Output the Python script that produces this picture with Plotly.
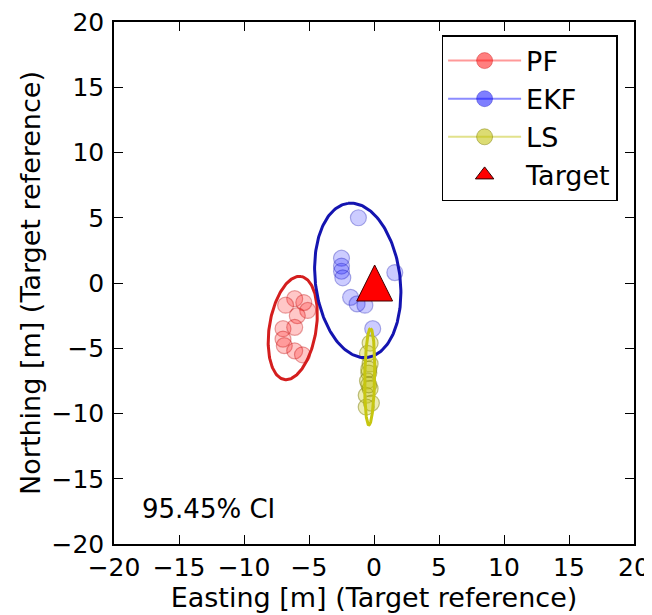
import numpy as np
import plotly.graph_objects as go

# ---- data ----
pf_x = [-6.1, -5.4, -5.1, -6.8, -5.9, -7.0, -6.1, -7.0, -6.9, -6.1, -5.5]
pf_y = [-1.2, -1.5, -2.1, -1.7, -2.5, -3.5, -3.4, -4.3, -4.8, -5.2, -5.5]

ekf_x = [-1.2, -2.5, -2.5, -2.5, -2.4, 1.6, -1.8, -1.3, -0.7, -0.1]
ekf_y = [5.0, 1.9, 1.3, 0.9, 0.4, 0.8, -1.1, -1.6, -1.7, -3.5]

ls_x = [-0.3, -0.5, -0.3, -0.4, -0.5, -0.3, -0.6, -0.2, -0.4, -0.4, -0.6]
ls_y = [-4.6, -5.4, -6.2, -6.9, -7.5, -8.1, -8.6, -9.2, -6.6, -7.8, -9.5]

target_x = [0.05]
target_y = [0.0]

# confidence ellipses: centre x, centre y, semi-major, semi-minor, major-axis angle (deg from +x)
ell_names = ["PF", "EKF", "LS"]
ell_cx = [-6.25, -1.25, -0.33]
ell_cy = [-3.45, 0.2, -7.18]
ell_a = [4.0, 5.95, 3.7]
ell_b = [1.8, 3.26, 0.38]
ell_ang = [80.7, 97.2, 89.0]

ci_label = "95.45% CI"

fill_cols = ["rgba(255,0,0,0.22)", "rgba(0,0,255,0.2)", "rgba(191,191,0,0.3)"]
edge_cols = ["rgba(190,0,0,0.35)", "rgba(0,0,170,0.3)", "rgba(120,120,0,0.45)"]
ell_cols = ["#d41e1e", "#1414b0", "#c6c610"]
leg_line = ["rgba(255,0,0,0.4)", "rgba(0,0,255,0.45)", "rgba(191,191,0,0.45)"]
leg_fill = ["rgba(255,0,0,0.5)", "rgba(0,0,255,0.5)", "rgba(191,191,0,0.55)"]

font = "DejaVu Sans"

fig = go.Figure()

pts = [(pf_x, pf_y), (ekf_x, ekf_y), (ls_x, ls_y)]
for i, (xs, ys) in enumerate(pts):
    fig.add_trace(go.Scatter(
        x=xs, y=ys, mode="markers", showlegend=False,
        marker=dict(size=16, color=fill_cols[i], line=dict(color=edge_cols[i], width=1.2)),
    ))

t = np.linspace(0, 2 * np.pi, 200)
for i in range(3):
    th = np.deg2rad(ell_ang[i])
    ex = ell_cx[i] + ell_a[i] * np.cos(t) * np.cos(th) - ell_b[i] * np.sin(t) * np.sin(th)
    ey = ell_cy[i] + ell_a[i] * np.cos(t) * np.sin(th) + ell_b[i] * np.sin(t) * np.cos(th)
    fig.add_trace(go.Scatter(x=ex, y=ey, mode="lines", showlegend=False,
                             line=dict(color=ell_cols[i], width=3)))

# target marker: matplotlib-style '^' (equal width and height) built around the target point
half = 1.38  # half size of marker in data units
tri_x = [target_x[0] - half, target_x[0] + half, target_x[0], target_x[0] - half]
tri_y = [target_y[0] - half, target_y[0] - half, target_y[0] + half, target_y[0] - half]
fig.add_trace(go.Scatter(x=tri_x, y=tri_y, mode="lines", fill="toself", fillcolor="#ff0000",
                         line=dict(color="#400000", width=1), showlegend=False))

# legend entries
for i, nm in enumerate(ell_names):
    fig.add_trace(go.Scatter(
        x=[None], y=[None], mode="lines+markers", name=nm, legendgroup=nm,
        line=dict(color=leg_line[i], width=2),
        marker=dict(size=16, color=leg_fill[i], line=dict(color=edge_cols[i], width=1)),
    ))
fig.add_trace(go.Scatter(
    x=[None], y=[None], mode="markers", name="Target", legendgroup="Target",
    marker=dict(symbol="triangle-up", size=16, color="#ff0000", line=dict(color="#300000", width=1)),
))

fig.add_annotation(x=-18.0, y=-17.3, text=ci_label, showarrow=False, xanchor="left",
                   yanchor="middle", font=dict(family=font, size=26, color="black"))

axis_common = dict(
    range=[-20, 20], dtick=5, ticks="inside", ticklen=9, tickwidth=1, tickcolor="black",
    showline=True, linecolor="black", linewidth=1.5, mirror="allticks", showgrid=False,
    zeroline=False, tickfont=dict(family=font, size=25, color="black"),
    automargin=False, ticklabeloverflow="allow",
)
fig.update_xaxes(**axis_common, ticklabelstandoff=0,
                 title=dict(text="Easting [m] (Target reference)",
                            font=dict(family=font, size=27, color="black"), standoff=4))
fig.update_yaxes(**axis_common, ticklabelstandoff=3,
                 title=dict(text="Northing [m] (Target reference)",
                            font=dict(family=font, size=27, color="black"), standoff=3))

fig.update_layout(
    width=644, height=607,
    margin=dict(l=106, r=18, t=14, b=71),
    plot_bgcolor="white", paper_bgcolor="white",
    font=dict(family=font, color="black"),
    legend=dict(x=0.63, y=0.975, xanchor="left", yanchor="top",
                bgcolor="white", bordercolor="black", borderwidth=1.5,
                font=dict(family=font, size=27, color="black"),
                tracegroupgap=0, itemwidth=73),
)

fig.write_html("out.html")
